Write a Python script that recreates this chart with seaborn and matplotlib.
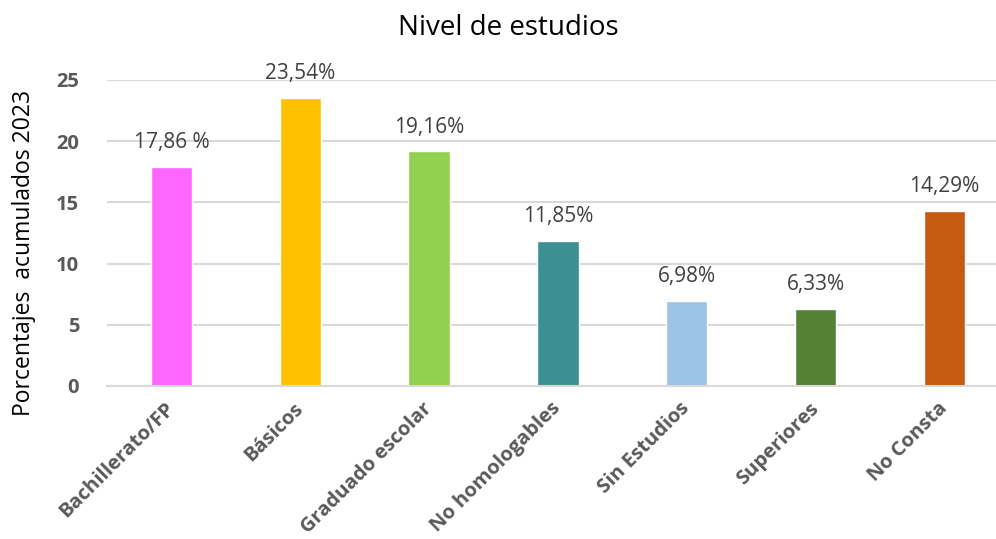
import pandas as pd
import matplotlib.pyplot as plt
import seaborn as sns

# ============================
# Data
# ============================

categories = ['Bachillerato/FP', 'Básicos', 'Graduado escolar', 'No homologables',
              'Sin Estudios', 'Superiores', 'No Consta']
values = [17.86, 23.54, 19.16, 11.85, 6.98, 6.33, 14.29]
value_labels = ['17,86 %', '23,54%', '19,16%', '11,85%', '6,98%', '6,33%', '14,29%']
colors = ['#FF66FF', '#FFC000', '#92D050', '#3B9094', '#9DC3E6', '#548235', '#C55A11']
y_ticks = [0, 5, 10, 15, 20, 25]

df = pd.DataFrame({'Nivel': categories, 'Porcentaje': values})

# ============================
# Plot
# ============================

sns.set_style('white')
plt.rcParams['font.family'] = ['Open Sans', 'DejaVu Sans']

fig = plt.figure(figsize=(9.96, 5.39), dpi=100)
ax = fig.add_axes([0.1074, 0.2839, 0.8926, 0.5677])

sns.barplot(data=df, x='Nivel', y='Porcentaje', hue='Nivel', palette=colors,
            width=0.32, legend=False, ax=ax, saturation=1)

for i, (v, lab) in enumerate(zip(values, value_labels)):
    ax.annotate(lab, (i, v), xytext=(0, 10), textcoords='offset points',
                ha='center', va='bottom', fontsize=15, color='#404040')

ax.set_xlim(-0.5, 6.4)
ax.set_ylim(0, 25)
ax.set_yticks(y_ticks)
ax.set_yticklabels([str(t) for t in y_ticks], fontsize=14.5, fontweight='bold', color='#595959')
ax.tick_params(axis='y', length=0, pad=20)
ax.tick_params(axis='x', length=0, pad=14)
ax.set_xticks(range(len(categories)))
ax.set_xticklabels(categories, rotation=45, ha='right', va='center', rotation_mode='anchor',
                   fontsize=14.5, fontweight='bold', color='#595959')

ax.grid(axis='y', color='#d9d9d9', linewidth=1.5)
ax.set_axisbelow(True)
for s in ['top', 'right', 'left']:
    ax.spines[s].set_visible(False)
ax.spines['bottom'].set_color('#d9d9d9')
ax.spines['bottom'].set_linewidth(1.5)

ax.set_xlabel('')
ax.set_ylabel('Porcentajes  acumulados 2023', fontsize=16.5, color='black')
ax.yaxis.set_label_coords(-0.080, 0.435)
fig.text(0.51, 0.948, 'Nivel de estudios', ha='center', va='center', fontsize=20, color='black')

plt.savefig('out.png', dpi=100)
